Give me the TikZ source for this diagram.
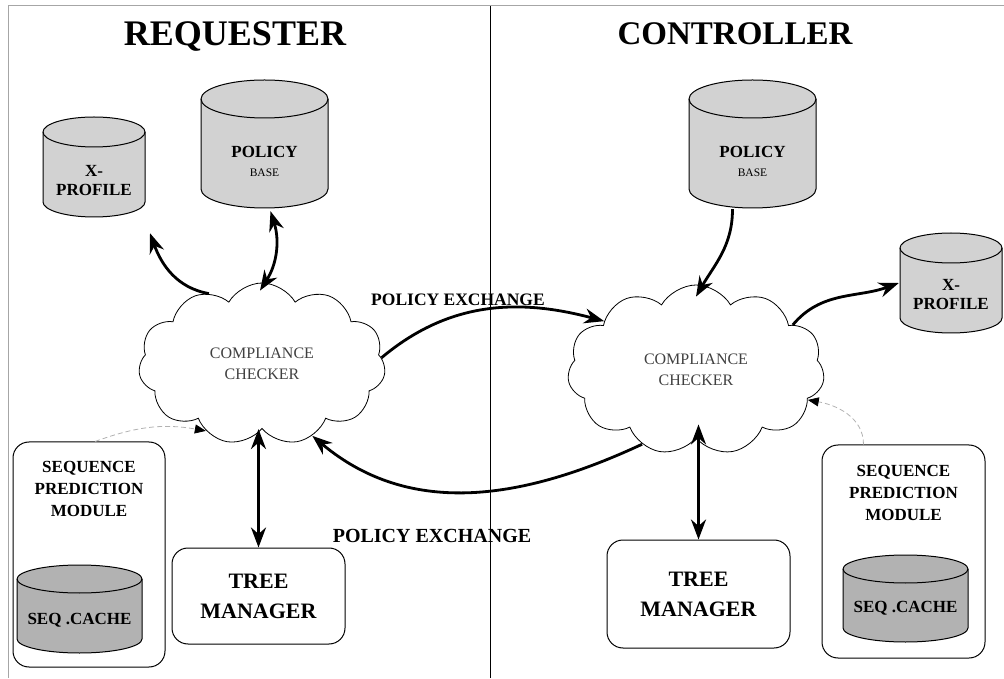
\documentclass[tikz,border=0pt]{standalone}
\usepackage{fontspec}
\setmainfont{Liberation Serif}
\usetikzlibrary{calc,
	positioning,
	shapes.symbols,
	arrows.meta}
\tikzset{db/.style n args={4}{minimum width=#1+2, minimum height=#2+2, inner sep=0,
	path picture={
		\filldraw[line width=1pt, fill=#4, shift={(path picture bounding box.center)}]
			(-#1/2,#2/2-#3) -- (-#1/2,-#2/2+#3) arc[start angle=180, end angle=360, x radius=#1/2, y radius=#3]
			-- (#1/2,#2/2-#3) arc[start angle=0, end angle=180, x radius=#1/2, y radius=#3] -- cycle;
		\draw[line width=1pt, shift={(path picture bounding box.center)}]
			(-#1/2,#2/2-#3) arc[start angle=180, end angle=360, x radius=#1/2, y radius=#3];}}}
\tikzstyle{cc}=[cloud, draw, line width=0.8pt, cloud puffs=11, cloud puff arc=120, aspect=1.5, align=center, inner sep=0, font=\fontsize{16}{21}\selectfont, text=black!75]
\tikzstyle{box}=[draw, line width=1pt, rounded corners=16pt, align=center]
\tikzstyle{hd}=[font=\bfseries\fontsize{36}{40}\selectfont]
\tikzstyle{lbl}=[font=\bfseries\fontsize{17}{19}\selectfont, align=center, inner sep=0]
\tikzstyle{arr}=[line width=2.8pt, -{Stealth[length=20pt,width=15pt]}]
\tikzstyle{darr}=[arr, {Stealth[length=20pt,width=15pt]}-{Stealth[length=20pt,width=15pt]}]
\tikzstyle{dsh}=[dashed, gray!60, line width=0.8pt, dash pattern=on 5pt off 3pt, -{Triangle[length=11pt,width=9pt,color=black]}]
\newcommand{\sm}[1]{{\normalfont\fontsize{11.5}{14}\selectfont #1}}

\begin{document}
\begin{tikzpicture}[x=1pt,y=1pt]
    \useasboundingbox (0,0) rectangle (1004,678);
    \draw[gray!70, line width=1pt] (8,0) -- (8,672) -- (1004,672);
    \draw[line width=1pt] (490,0) -- (490,672);

    \node[hd] (rq) at (235,641) {REQUESTER};
    \node[hd, font=\bfseries\fontsize{33}{40}\selectfont] (ct) at (735,644) {CONTROLLER};

    \node[db={102}{100}{15}{gray!35}, label={[lbl, yshift=-14pt]center:X-\\PROFILE}] (lxp) at (94,511) {};
    \node[db={127}{128}{19}{gray!35}, label={[lbl, yshift=-17pt]center:POLICY\\\sm{BASE}}] (lpb) at (264.5,534) {};
    \node[db={127}{128}{19}{gray!35}, label={[lbl, yshift=-17pt]center:POLICY\\\sm{BASE}}] (rpb) at (752.5,534) {};
    \node[db={102}{100}{15}{gray!35}, label={[lbl, yshift=-12pt]center:X-\\PROFILE}] (rxp) at (951,395) {};

    \node[cc, minimum width=247, minimum height=162] (lcc) at (262,314) {COMPLIANCE\\CHECKER};
    \node[cc, minimum width=257, minimum height=170] (rcc) at (696,308) {COMPLIANCE\\CHECKER};

    \node[box, minimum width=152, minimum height=225] (lsp) at (89,123.5) {};
    \node[lbl, font=\bfseries\fontsize{17}{22}\selectfont] (lspt) at (89,189) {SEQUENCE\\PREDICTION\\MODULE};
    \node[db={125}{88}{14}{gray!60}, label={[lbl, yshift=-11pt]center:SEQ .CACHE}] (lsc) at (79.5,69) {};
    \node[box, minimum width=173, minimum height=96, font=\bfseries\fontsize{22}{30}\selectfont] (ltm) at (258.5,82) {TREE\\MANAGER};

    \node[box, minimum width=163, minimum height=213] (rsp) at (903.5,126.5) {};
    \node[lbl, font=\bfseries\fontsize{17}{22}\selectfont] (rspt) at (903.5,185) {SEQUENCE\\PREDICTION\\MODULE};
    \node[db={125}{87}{14}{gray!60}, label={[lbl, yshift=-10pt]center:SEQ .CACHE}] (rsc) at (905.5,79.5) {};
    \node[box, minimum width=183, minimum height=108, font=\bfseries\fontsize{22}{30}\selectfont] (rtm) at (698.5,84) {TREE\\MANAGER};

    \node[lbl, font=\bfseries\fontsize{17.5}{22}\selectfont] (pe1) at (458,378) {POLICY EXCHANGE};
    \node[lbl, font=\bfseries\fontsize{20}{24}\selectfont] (pe2) at (432,142) {POLICY EXCHANGE};

    \draw[arr] (lcc.127) to[out=170, in=-70] ($(lxp.south)+(56,-15)$);
    \draw[darr] ($(lpb.south)+(6,-2)$) to[bend left=25] ($(lcc.north)+(-2,-8)$);
    \draw[arr] (lcc.3) to[out=40, in=165] (rcc.152);
    \draw[arr] (rcc.234) to[out=205, in=-40] (lcc.-55);
    \draw[arr] ($(rpb.south)+(-20,0)$) to[out=-90, in=60] ($(rcc.north)+(0,-12)$);
    \draw[arr] (rcc.25) to[out=50, in=200] (rxp.west);
    \draw[darr] (ltm.north) -- (ltm.north |- lcc.south);
    \draw[darr] (rtm.north) -- ($(rtm.north |- rcc.south)+(0,14)$);
    \draw[dsh] ($(lsp.north)+(6,0)$) to[out=20, in=170] (lcc.-130);
    \draw[dsh] ($(rsp.north)+(-40,0)$) to[out=90, in=-10] (rcc.-15);
\end{tikzpicture}
\end{document}
